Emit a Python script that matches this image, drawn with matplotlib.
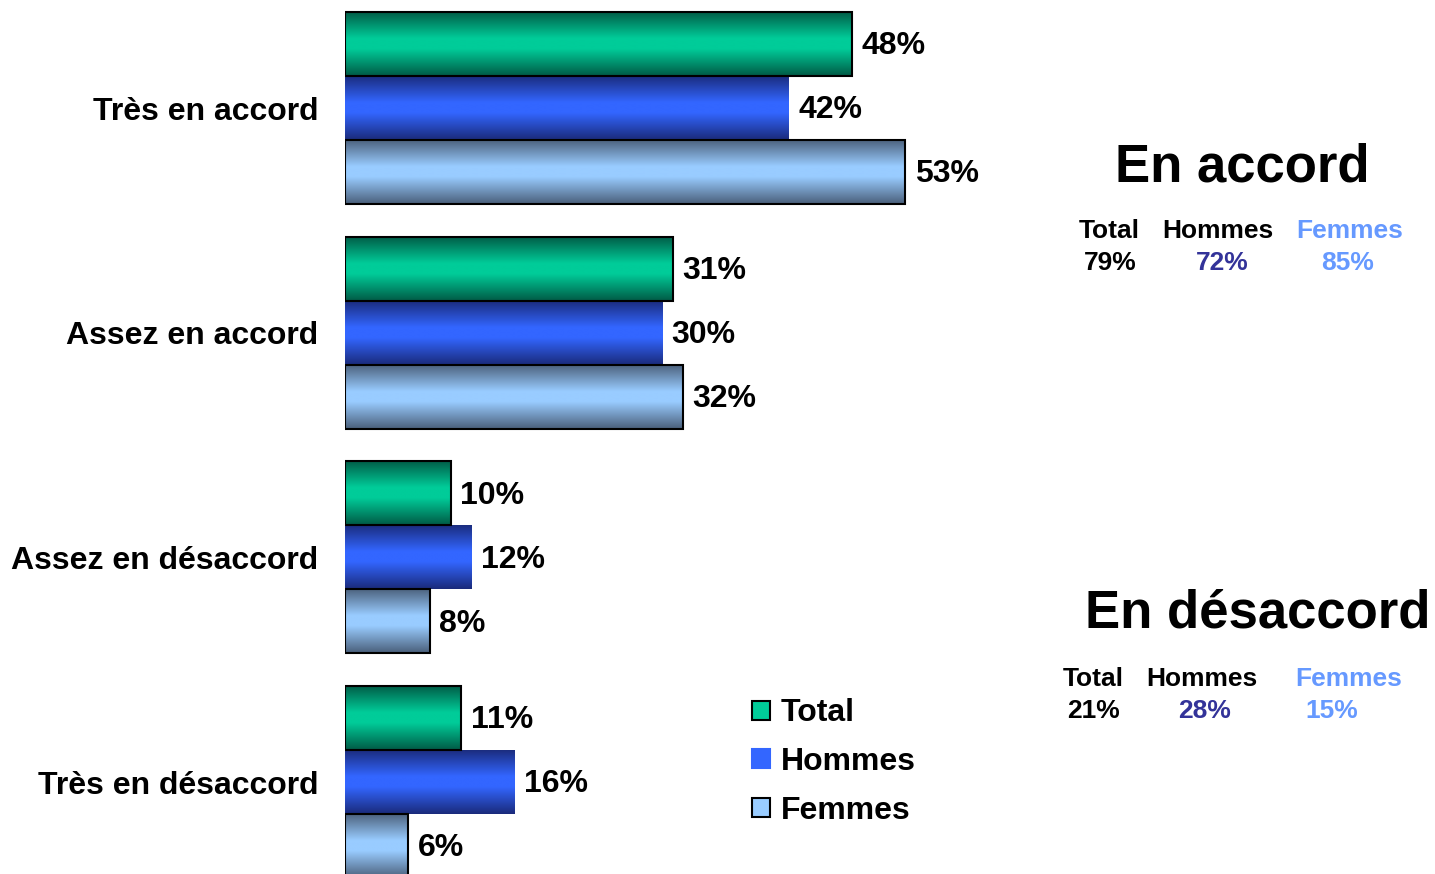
"""
Accord / désaccord par sexe : barres horizontales avec dégradé.
"""

import numpy as np
import matplotlib
matplotlib.use("Agg")
import matplotlib.pyplot as plt
from matplotlib.colors import LinearSegmentedColormap
from matplotlib.patches import Patch


CATEGORIES = [
    "Très en accord",
    "Assez en accord",
    "Assez en désaccord",
    "Très en désaccord"
]

SERIES_NAMES = [
    "Total",
    "Hommes",
    "Femmes"
]

TOTAL = [48, 31, 10, 11]
HOMMES = [42, 30, 12, 16]
FEMMES = [53, 32, 8, 6]

SUMMARY_TITLES = [
    "En accord",
    "En désaccord"
]

SUMMARY_TOTAL = [79, 21]
SUMMARY_HOMMES = [72, 28]
SUMMARY_FEMMES = [85, 15]

# (dark edge, light middle, bar outline)
STYLES = [
    ("#005a45", "#00cc99", "black"),
    ("#1a2a7a", "#3366ff", "none"),
    ("#4a5f7a", "#99ccff", "black"),
]

FONT = "Liberation Sans"
W, H = 1435, 874


def gradient_cmap(dark, light):
    return LinearSegmentedColormap.from_list(
        "g", [(0, dark), (0.42, light), (0.58, light), (1, dark)]
    )


def fx(px):
    return px / W


def fy(py):
    return 1 - py / H


def create_chart() -> None:
    fig = plt.figure(figsize=(W / 100, H / 100), dpi=100)
    ax = fig.add_axes([fx(345), 0, fx(1050 - 345), 1])

    grad = np.linspace(0, 1, 256).reshape(-1, 1)
    height = 0.285
    y = np.arange(len(CATEGORIES))
    series = [TOTAL, HOMMES, FEMMES]

    for k, values in enumerate(series):
        dark, light, edge = STYLES[k]
        cmap = gradient_cmap(dark, light)
        pos = y + (k - 1) * height
        bars = ax.barh(pos, values, height=height, facecolor="none",
                       edgecolor=edge, linewidth=1.5, zorder=3)
        for rect, v, p in zip(bars, values, pos):
            img = ax.imshow(grad, extent=(0, v, p + height / 2, p - height / 2),
                            aspect="auto", cmap=cmap, zorder=2,
                            interpolation="bilinear")
            img.set_clip_path(rect)
            ax.text(v + 0.9, p + 0.01, f"{v}%", va="center", ha="left",
                    fontsize=23, fontweight="bold", family=FONT)

    ax.set_xlim(0, 705 / 10.57)
    ax.set_ylim(3.409, -0.481)
    ax.set_yticks(y)
    ax.set_yticklabels(CATEGORIES, fontsize=23, fontweight="bold", family=FONT)
    ax.tick_params(axis="y", length=0, pad=19)
    ax.set_xticks([])
    for s in ax.spines.values():
        s.set_visible(False)

    handles = [
        Patch(facecolor=STYLES[k][1], edgecolor="black" if k != 1 else STYLES[k][1],
              linewidth=1.5, label=SERIES_NAMES[k])
        for k in range(3)
    ]
    fig.legend(handles=handles, loc="center left",
               bbox_to_anchor=(fx(752), fy(762)), frameon=False,
               borderpad=0, borderaxespad=0,
               prop={"family": FONT, "weight": "bold", "size": 23},
               handlelength=0.55, handleheight=0.55, handletextpad=0.35,
               labelspacing=0.58)

    # summary blocks
    title_pos = [(1242, 167), (1258, 614)]
    label_y = [231, 679]
    value_y = [263, 711]
    label_x = [(1109, 1218, 1350), (1093, 1202, 1349)]
    value_x = [(1110, 1222, 1348), (1093, 1205, 1332)]
    colors = ["black", "#333399", "#6699ff"]
    label_colors = ["black", "black", "#6699ff"]
    for i, title in enumerate(SUMMARY_TITLES):
        fig.text(fx(title_pos[i][0]), fy(title_pos[i][1]), title,
                 ha="center", va="center", fontsize=38, fontweight="bold",
                 family=FONT)
        vals = [SUMMARY_TOTAL[i], SUMMARY_HOMMES[i], SUMMARY_FEMMES[i]]
        for k in range(3):
            fig.text(fx(label_x[i][k]), fy(label_y[i]), SERIES_NAMES[k],
                     ha="center", va="center", fontsize=19,
                     fontweight="bold", family=FONT, color=label_colors[k])
            fig.text(fx(value_x[i][k]), fy(value_y[i]), f"{vals[k]}%",
                     ha="center", va="center", fontsize=19,
                     fontweight="bold", family=FONT, color=colors[k])

    fig.savefig("out.png", dpi=100)


def main() -> None:
    create_chart()


if __name__ == "__main__":
    main()
